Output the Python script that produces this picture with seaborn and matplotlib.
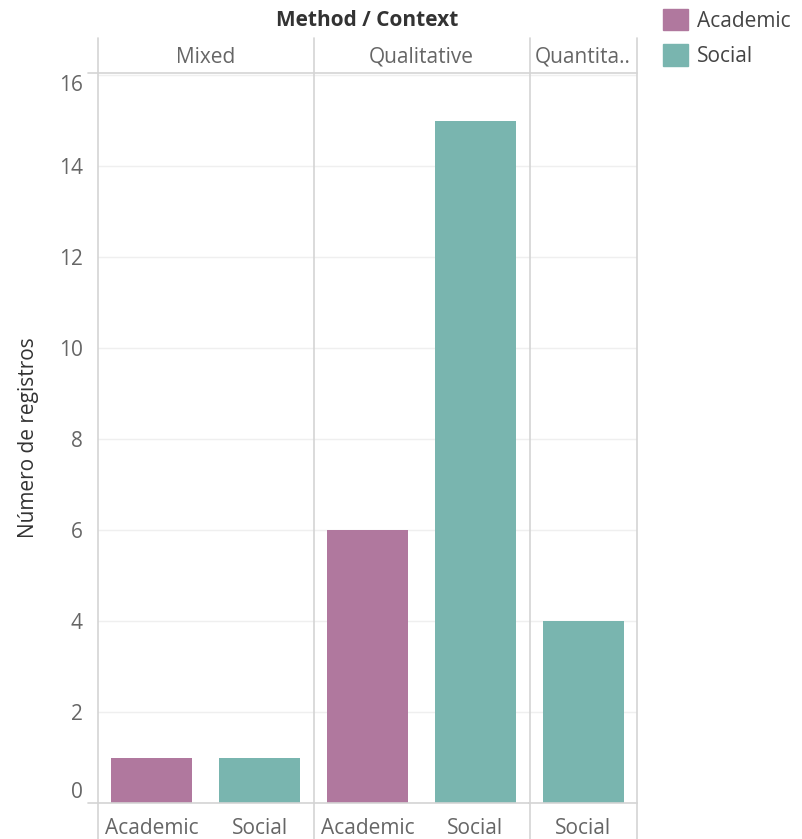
import matplotlib
matplotlib.use("Agg")
import matplotlib.pyplot as plt
from matplotlib.lines import Line2D
import pandas as pd
import seaborn as sns

# data
methods = ["Mixed", "Mixed", "Qualitative", "Qualitative", "Quantitative"]
contexts = ["Academic", "Social", "Academic", "Social", "Social"]
counts = [1, 1, 6, 15, 4]
panel_order = ["Mixed", "Qualitative", "Quantitative"]
panel_labels = ["Mixed", "Qualitative", "Quantita.."]
yticks = [0, 2, 4, 6, 8, 10, 12, 14, 16]

palette = {"Academic": "#b0789e", "Social": "#79b5af"}
GRID = "#efefef"
RULE = "#d4d4d4"
TXT = "#666666"
FS = 15

df = pd.DataFrame({"method": methods, "context": contexts, "count": counts})

sns.set_theme(style="white")
plt.rcParams["font.family"] = ["Open Sans", "DejaVu Sans"]

fig = plt.figure(figsize=(8.02, 8.39), dpi=100)
W, H = 802, 839
left, right = 98 / W, 637 / W
bottom, top = 1 - 803 / H, 1 - 73 / H
n_cats = [df[df.method == m].shape[0] for m in panel_order]
gs = fig.add_gridspec(1, 3, width_ratios=n_cats, left=left, right=right,
                      bottom=bottom, top=top, wspace=0)

for i, (m, lab) in enumerate(zip(panel_order, panel_labels)):
    ax = fig.add_subplot(gs[0, i])
    sub = df[df.method == m]
    sns.barplot(data=sub, x="context", y="count", hue="context",
                palette=palette, width=0.75, legend=False, ax=ax,
                saturation=1, linewidth=0)
    ax.set_ylim(0, 16.05)
    ax.set_yticks(yticks)
    ax.yaxis.grid(True, color=GRID, lw=1)
    ax.set_axisbelow(True)
    for s in ["top", "right", "left"]:
        ax.spines[s].set_visible(False)
    ax.spines["bottom"].set_color(RULE)
    ax.spines["bottom"].set_linewidth(1.2)
    ax.set_xlabel("")
    ax.set_ylabel("")
    ax.tick_params(axis="x", length=0, labelsize=FS, labelcolor=TXT, pad=11)
    ax.tick_params(axis="y", length=0)
    ax.text(0.5, 1.0 + 16 / 730, lab, transform=ax.transAxes, ha="center",
            va="center", fontsize=FS, color=TXT)
    if i == 0:
        ax.tick_params(axis="y", length=10, width=1, color=GRID,
                       labelsize=FS, labelcolor=TXT, pad=1)
        labels = ax.get_yticklabels()
        labels[0].set_va("bottom")
        labels[-1].set_va("top")
        ax.set_ylabel("Número de registros", fontsize=FS, color="#333333",
                      labelpad=14)
    else:
        ax.set_yticklabels([])

# panel separators and header rule
for x in [98, 314, 530, 637]:
    fig.add_artist(Line2D([x / W, x / W], [0, 1 - 38 / H], color=RULE, lw=1.2))
fig.add_artist(Line2D([88 / W, right], [1 - 73 / H, 1 - 73 / H], color=RULE, lw=1.2))
fig.add_artist(Line2D([88 / W, left], [bottom, bottom], color=RULE, lw=1.2))

fig.text((left + right) / 2, 1 - 21 / H, "Method / Context", ha="center",
         va="center", fontsize=FS, fontweight="bold", color="#333333")

# legend
handles = [plt.Rectangle((0, 0), 1, 1, color=palette[c]) for c in ["Academic", "Social"]]
fig.legend(handles, ["Academic", "Social"], loc="upper left",
           bbox_to_anchor=(663 / W, 1 - 9 / H), frameon=False, fontsize=FS,
           handlelength=1.2, handleheight=1.2, handletextpad=0.45,
           labelspacing=0.6, labelcolor="#444444", borderpad=0,
           borderaxespad=0)

fig.savefig("out.png", dpi=100)
